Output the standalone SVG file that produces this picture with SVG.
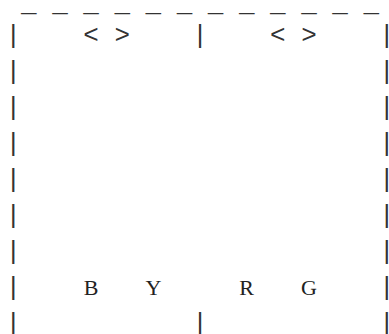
<svg xmlns="http://www.w3.org/2000/svg" width="389" height="334" viewBox="0 0 389 334">
<style>
text{font-family:"Liberation Mono","Courier New",monospace;font-size:25.93px;fill:#333;text-anchor:middle}
text.l{font-family:"Liberation Serif","Times New Roman",serif;font-size:22px;fill:#222}
</style>
<rect width="389" height="334" fill="#fff"/>
<g id="top"><text x="28.86 59.98 91.1 122.22 153.34 184.46 215.58 246.7 277.82 308.94 340.06 371.18" y="11">____________</text></g>
<g id="row1"><text x="13.3" y="43">|</text><text x="91.1 122.22" y="43">&lt;&gt;</text><text x="200.02" y="43">|</text><text x="277.82 308.94" y="43">&lt;&gt;</text><text x="386.74" y="43">|</text></g>
<g id="sides">
<text x="13.3 386.74" y="79">||</text>
<text x="13.3 386.74" y="115">||</text>
<text x="13.3 386.74" y="151">||</text>
<text x="13.3 386.74" y="187">||</text>
<text x="13.3 386.74" y="223">||</text>
<text x="13.3 386.74" y="259">||</text>
</g>
<g id="row8"><text x="13.3" y="295">|</text><text x="386.74" y="295">|</text><text class="l" x="91.1 153.34" y="295">BY</text><text class="l" x="246.7 308.94" y="295">RG</text></g>
<g id="row9"><text x="13.3 200.02 386.74" y="331">|||</text></g>
</svg>
